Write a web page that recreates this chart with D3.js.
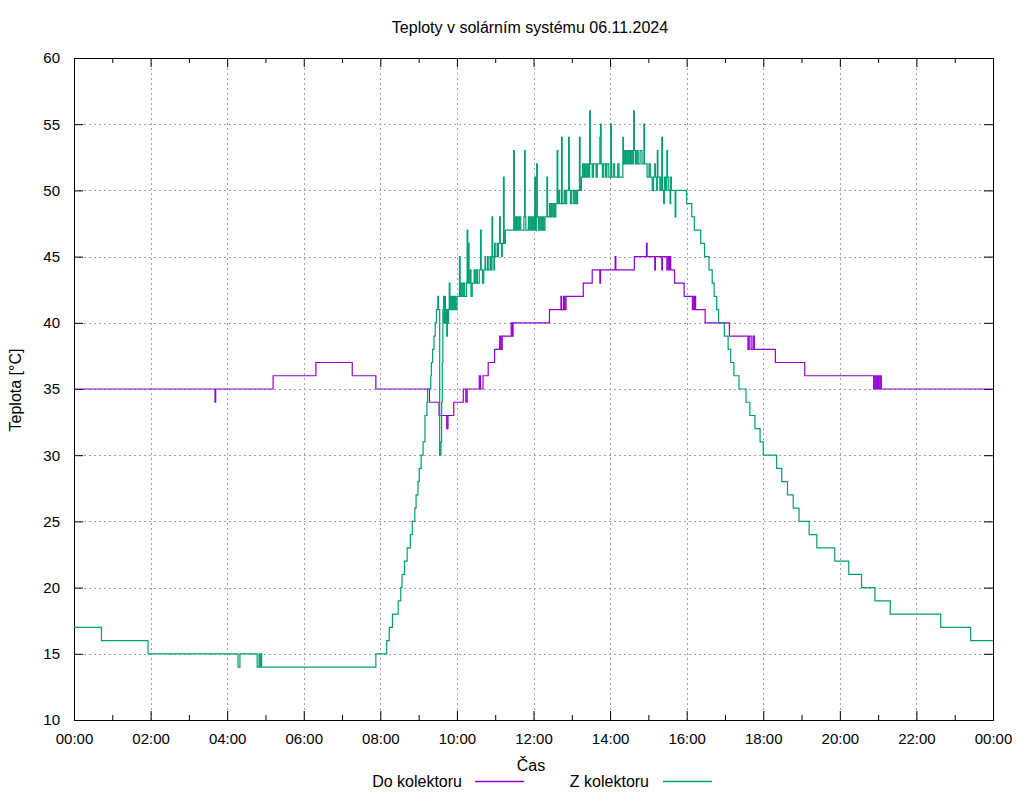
<!DOCTYPE html>
<html><head><meta charset="utf-8">
<script src="https://cdn.jsdelivr.net/npm/d3@7"></script>
<style>body{margin:0;background:#fff}</style>
</head><body>
<svg id="c" width="1024" height="800"></svg>
<script>
const title = "Teploty v solárním systému 06.11.2024";
const xLabel = "Čas";
const yLabel = "Teplota [°C]";
const seriesNames = ["Do kolektoru", "Z kolektoru"];
const xTickLabels = ["00:00","02:00","04:00","06:00","08:00","10:00","12:00","14:00","16:00","18:00","20:00","22:00","00:00"];
const yTicks = [10,15,20,25,30,35,40,45,50,55,60];

// Do kolektoru (purple)
const doTimes = ["00:00","03:41","03:42","05:12","06:19","07:16","07:53","09:17","09:32","09:44","09:46","09:55","10:10","10:14","10:16","10:35","10:37","10:41","10:49","10:59","11:07","11:09","11:11","11:25","11:27","11:28","12:25","12:43","12:44","12:47","12:49","12:51","13:18","13:32","13:44","13:45","14:08","14:09","14:38","14:57","14:58","15:10","15:11","15:21","15:22","15:29","15:31","15:33","15:34","15:35","15:41","15:56","16:09","16:10","16:12","16:13","16:14","16:29","17:07","17:36","17:38","17:41","17:44","17:46","18:19","19:05","20:53","20:55","20:57","20:59","21:01","21:03","21:05","24:00"];
const doValues = [35,34,35,36,37,36,35,34,33,32,33,34,35,34,35,36,35,36,37,38,39,38,39,40,39,40,41,42,41,42,41,42,43,44,43,44,45,44,45,46,45,44,45,44,45,44,45,44,45,44,43,42,41,42,41,42,41,40,39,38,39,38,39,38,37,36,35,36,35,36,35,36,35,35];

// Z kolektoru (green)
const zTimes = ["00:00","00:43","01:56","04:17","04:20","04:47","04:50","04:52","04:53","04:54","07:53","08:10","08:14","08:19","08:28","08:32","08:34","08:38","08:42","08:47","08:50","08:54","08:56","08:59","09:01","09:04","09:07","09:10","09:13","09:14","09:19","09:20","09:22","09:24","09:26","09:28","09:30","09:31","09:33","09:35","09:36","09:37","09:38","09:39","09:40","09:41","09:42","09:43","09:44","09:45","09:46","09:47","09:48","09:49","09:50","09:52","09:53","09:55","09:56","09:58","10:00","10:04","10:05","10:06","10:08","10:10","10:12","10:15","10:16","10:17","10:18","10:19","10:21","10:22","10:24","10:27","10:28","10:30","10:32","10:35","10:37","10:38","10:40","10:42","10:44","10:45","10:48","10:49","10:52","10:53","10:55","10:56","10:58","10:59","11:00","11:03","11:04","11:05","11:07","11:08","11:10","11:11","11:13","11:14","11:16","11:29","11:30","11:32","11:33","11:34","11:36","11:38","11:40","11:45","11:46","11:47","11:48","11:52","11:53","11:55","11:57","11:59","12:00","12:02","12:03","12:05","12:06","12:08","12:10","12:12","12:14","12:16","12:18","12:21","12:22","12:25","12:26","12:28","12:29","12:31","12:33","12:35","12:37","12:38","12:40","12:41","12:44","12:45","12:48","12:50","12:52","12:55","12:56","12:58","13:00","13:03","13:05","13:07","13:09","13:12","13:13","13:15","13:17","13:18","13:20","13:22","13:24","13:26","13:28","13:29","13:32","13:34","13:38","13:40","13:44","13:45","13:46","13:48","13:50","13:53","13:55","13:58","14:01","14:02","14:05","14:07","14:12","14:14","14:20","14:21","14:23","14:24","14:26","14:28","14:30","14:32","14:34","14:36","14:37","14:38","14:40","14:42","14:44","14:47","14:50","14:53","14:54","14:58","15:01","15:03","15:06","15:08","15:10","15:11","15:13","15:14","15:15","15:18","15:20","15:21","15:22","15:24","15:25","15:27","15:29","15:30","15:32","15:34","15:35","15:36","15:42","15:43","16:00","16:08","16:12","16:22","16:28","16:35","16:40","16:43","16:47","16:50","16:59","17:05","17:09","17:14","17:22","17:33","17:39","17:47","17:55","18:00","18:21","18:29","18:38","18:47","18:56","19:12","19:24","19:52","20:14","20:34","20:55","21:19","22:38","23:25","24:00"];
const zValues = [17,16,15,14,15,14,15,14,15,14,15,16,17,18,19,20,21,22,23,24,25,26,27,28,29,30,31,33,34,35,36,37,38,39,40,41,42,41,30,31,34,37,41,42,40,42,40,41,39,41,40,41,43,41,42,41,42,41,42,41,42,45,42,43,42,43,42,43,47,43,46,43,44,42,43,44,43,44,43,44,47,44,43,44,45,44,45,44,45,44,48,45,44,46,45,46,45,46,48,46,45,46,51,46,47,53,47,48,47,48,47,48,47,48,53,48,47,48,47,48,47,48,47,51,47,52,48,47,48,47,48,47,48,51,48,49,48,49,48,49,48,49,53,49,50,49,54,49,50,49,50,54,50,49,50,49,50,49,50,54,50,51,52,51,52,51,52,51,56,52,51,52,51,52,54,55,52,51,52,51,52,51,55,51,52,51,52,51,54,52,53,52,53,52,53,52,53,52,56,53,52,53,52,53,52,55,52,51,52,51,50,51,52,51,50,53,51,50,51,54,50,49,51,50,53,51,50,49,51,50,48,50,49,48,47,46,45,44,43,42,41,40,39,38,37,36,35,34,33,32,31,30,29,28,27,26,25,24,23,22,21,20,19,18,17,16,16];

const colors = ["#9400d3", "#009e73"];
const fontFamily = "'Liberation Sans', Arial, sans-serif";

function toMin(s){ const [h,m] = s.split(":").map(Number); return h*60+m; }
const doData = doTimes.map((t,i)=>({t:toMin(t), v:doValues[i]}));
const zData = zTimes.map((t,i)=>({t:toMin(t), v:zValues[i]}));

const L=74, R=993, T=58, B=720;
const x = d3.scaleLinear().domain([0,1440]).range([L,R]);
const y = d3.scaleLinear().domain([10,60]).range([B,T]);
const majorX = d3.range(0,1441,120);
const minorX = d3.range(60,1440,120);

const svg = d3.select("#c").style("font-family", fontFamily);

// grid
const grid = svg.append("g").attr("stroke","#a0a0a0").attr("stroke-width",1).attr("stroke-dasharray","2,3");
grid.selectAll("line.gx").data(majorX.slice(1,-1)).join("line").attr("class","gx")
  .attr("x1",d=>Math.round(x(d))+0.5).attr("x2",d=>Math.round(x(d))+0.5).attr("y1",T).attr("y2",B);
grid.selectAll("line.gy").data(yTicks.slice(1,-1)).join("line").attr("class","gy")
  .attr("y1",d=>Math.round(y(d))+0.5).attr("y2",d=>Math.round(y(d))+0.5).attr("x1",L).attr("x2",R);

// axes
function styleAxis(g){ g.select(".domain").remove(); g.selectAll("line").attr("stroke","#000"); g.selectAll("text").attr("font-size",15).attr("fill","#000").attr("font-family",fontFamily); }
svg.append("g").attr("transform",`translate(0,${B})`)
  .call(d3.axisBottom(x).tickValues(majorX).tickSize(-9).tickPadding(13).tickFormat((d,i)=>xTickLabels[i])).call(styleAxis);
svg.append("g").attr("transform",`translate(0,${B})`)
  .call(d3.axisBottom(x).tickValues(minorX).tickSize(-5).tickFormat("")).call(styleAxis);
svg.append("g").attr("transform",`translate(0,${T})`)
  .call(d3.axisTop(x).tickValues(majorX).tickSize(-9).tickFormat("")).call(styleAxis);
svg.append("g").attr("transform",`translate(0,${T})`)
  .call(d3.axisTop(x).tickValues(minorX).tickSize(-5).tickFormat("")).call(styleAxis);
svg.append("g").attr("transform",`translate(${L},0)`)
  .call(d3.axisLeft(y).tickValues(yTicks).tickSize(-9).tickPadding(14)).call(styleAxis);
svg.append("g").attr("transform",`translate(${R},0)`)
  .call(d3.axisRight(y).tickValues(yTicks).tickSize(-9).tickFormat("")).call(styleAxis);

// frame
svg.append("rect").attr("x",L+0.5).attr("y",T+0.5).attr("width",R-L).attr("height",B-T)
  .attr("fill","none").attr("stroke","#000").attr("stroke-width",1);

// lines
const line = d3.line().x(d=>x(d.t)).y(d=>y(d.v)).curve(d3.curveStepAfter);
svg.append("path").datum(doData).attr("d",line).attr("fill","none").attr("stroke",colors[0]).attr("stroke-width",1.2);
svg.append("path").datum(zData).attr("d",line).attr("fill","none").attr("stroke",colors[1]).attr("stroke-width",1.2);

// texts
svg.append("text").attr("x",530).attr("y",33).attr("text-anchor","middle").attr("font-size",16).text(title);
svg.append("text").attr("x",531).attr("y",771).attr("text-anchor","middle").attr("font-size",16).text(xLabel);
svg.append("text").attr("transform","translate(21,390) rotate(-90)").attr("text-anchor","middle").attr("font-size",16).text(yLabel);

// legend
const legendPos = [{tx:462, lx1:475, lx2:524},{tx:649, lx1:663, lx2:712}];
seriesNames.forEach((n,i)=>{
  const p = legendPos[i];
  svg.append("text").attr("x",p.tx).attr("y",787).attr("text-anchor","end").attr("font-size",16).text(n);
  svg.append("line").attr("x1",p.lx1).attr("x2",p.lx2).attr("y1",781.5).attr("y2",781.5).attr("stroke",colors[i]).attr("stroke-width",1.5);
});
</script>
</body></html>
